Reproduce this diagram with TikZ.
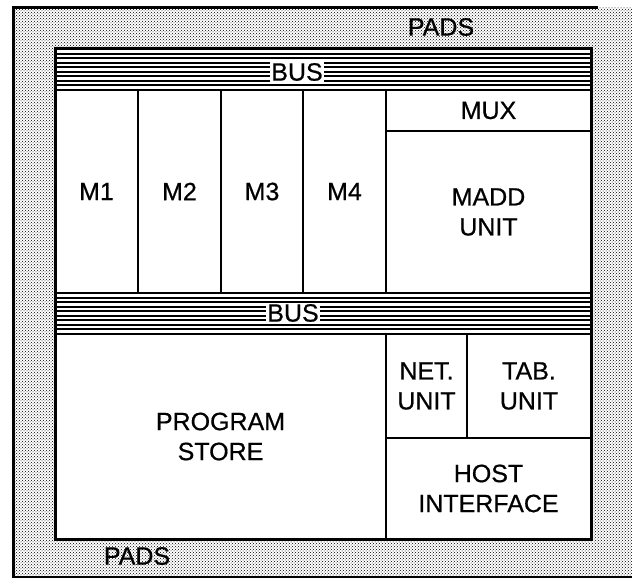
\documentclass[tikz,border=0pt]{standalone}
\usepackage{fontspec}
\setmainfont{Liberation Sans}
\newfontfamily\labelfont{Liberation Sans}[FakeBold=0.6]
\usetikzlibrary{patterns}

\tikzset{
  blk/.style={draw, line width=2.2pt, fill=white, rectangle, outer sep=0pt,
    inner sep=0pt, align=center, font=\labelfont\fontsize{25}{30}\selectfont},
  buslbl/.style={fill=white, inner sep=1.5pt, font=\labelfont\fontsize{25}{30}\selectfont},
  padlbl/.style={inner sep=0pt, font=\labelfont\fontsize{25}{30}\selectfont},
  stripe/.style={line width=2pt},
}

\begin{document}
\begin{tikzpicture}[x=1pt, y=-1pt]
  \useasboundingbox (0,0) rectangle (632,578);

  % stippled pad ring
  \fill[pattern=crosshatch dots, pattern color=black] (13,8) rectangle (632,578);
  \draw[line width=3pt] (13,578) -- (13,8) -- (598,8);
  \draw[line width=2pt] (13,577) -- (632,577);

  % die area
  \node[blk, line width=3pt, minimum width=536pt, minimum height=490pt] (chip) at (323,294) {};

  % upper bus
  \node[blk, minimum width=536pt, minimum height=41pt] (busa) at (323,69.5) {};
  \foreach \k in {1,...,8}
    \draw[stripe] ([yshift=-4.55*\k pt]busa.north west) -- ([yshift=-4.55*\k pt]busa.north east);
  \node[buslbl] (busatext) at (297,72) {BUS};

  % memory banks
  \node[blk, minimum width=83pt, minimum height=203pt] (m1) at (96.5,191.5) {M1};
  \node[blk, minimum width=83pt, minimum height=203pt] (m2) at (179.5,191.5) {M2};
  \node[blk, minimum width=82pt, minimum height=203pt] (m3) at (262,191.5) {M3};
  \node[blk, minimum width=83pt, minimum height=203pt] (m4) at (344.5,191.5) {M4};

  % multiplier-adder column
  \node[blk, minimum width=205pt, minimum height=41pt] (mux) at (488.5,110.5) {MUX};
  \node[blk, minimum width=205pt, minimum height=162pt] (madd) at (488.5,212) {MADD\\UNIT};

  % lower bus
  \node[blk, minimum width=536pt, minimum height=41pt] (busb) at (323,313.5) {};
  \foreach \k in {1,...,8}
    \draw[stripe] ([yshift=-4.55*\k pt]busb.north west) -- ([yshift=-4.55*\k pt]busb.north east);
  \node[buslbl] (busbtext) at (293,313) {BUS};

  % lower blocks
  \node[blk, minimum width=331pt, minimum height=205pt] (prog) at (220.5,436.5) {PROGRAM\\STORE};
  \node[blk, minimum width=81pt, minimum height=104pt] (net) at (426.5,386) {NET.\\UNIT};
  \node[blk, minimum width=124pt, minimum height=104pt] (tab) at (529,386) {TAB.\\UNIT};
  \node[blk, minimum width=205pt, minimum height=101pt] (host) at (488.5,488.5) {HOST\\INTERFACE};

  % outline of the die drawn again on top
  \draw[line width=3pt] (chip.north west) rectangle (chip.south east);

  % pad labels
  \node[padlbl] (padstop) at (441,27) {PADS};
  \node[padlbl] (padsbot) at (137,556) {PADS};
\end{tikzpicture}
\end{document}
